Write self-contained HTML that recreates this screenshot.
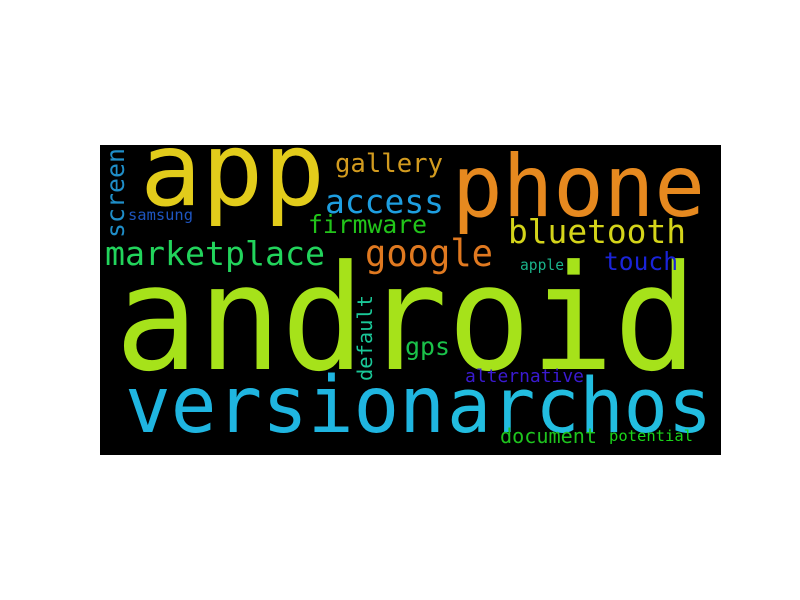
<!DOCTYPE html>
<html><head><meta charset="utf-8"><style>
html,body{margin:0;padding:0;background:#fff;width:800px;height:600px;overflow:hidden}
svg text{font-family:"DejaVu Sans Mono","Liberation Mono",monospace}
</style></head><body>
<svg id="cloud" width="800" height="600" xmlns="http://www.w3.org/2000/svg">
<rect x="100" y="145" width="621" height="310" fill="#000"/>
</svg>
<script>
const words = ["app","phone","android","version","archos","gallery","access","firmware","marketplace","google","bluetooth","touch","apple","samsung","screen","default","gps","alternative","document","potential"];
const sizes = [102,86,146,78,76,26,33,25,33,37,33,25,15,15,25,20,25,18,20,15];
const colors = ["#e2cc1b","#e6891f","#a6e21a","#1fb5e0","#22bde0","#d29b1f","#1e9ee0","#22c41a","#22d45c","#e07920","#d4d41a","#1a24d9","#1ab38a","#1e55c0","#1f8ec8","#1ac898","#1ac24a","#3a1ad0","#1ec41e","#1ad41a"];
const xs = [140,452,115,125,447,335,325,308,105,365,508,604,520,128,124,372,405,465,500,609];
const ys = [205,216,369,432,432,172,213,233,265,266,243,270,270,220,238,381,355,382,443,441];
const lens = [185,253,582,320,265,108,119,119,220,128,178,74,44,65,90,86,45,119,97,84];
const vertical = [0,0,0,0,0,0,0,0,0,0,0,0,0,0,1,1,0,0,0,0];
const svg = document.getElementById('cloud');
const NS = "http://www.w3.org/2000/svg";
words.forEach((w,i)=>{
  const t = document.createElementNS(NS,'text');
  
  
  t.setAttribute('x', xs[i]); t.setAttribute('y', ys[i]);
  t.setAttribute('font-size', sizes[i]);
  t.setAttribute('fill', colors[i]);
  t.setAttribute('textLength', lens[i]);
  t.setAttribute('lengthAdjust', 'spacingAndGlyphs');
  if (vertical[i]) t.setAttribute('transform', `rotate(-90 ${xs[i]} ${ys[i]})`);
  t.textContent = w;
  svg.appendChild(t);
});
</script>
</body></html>
